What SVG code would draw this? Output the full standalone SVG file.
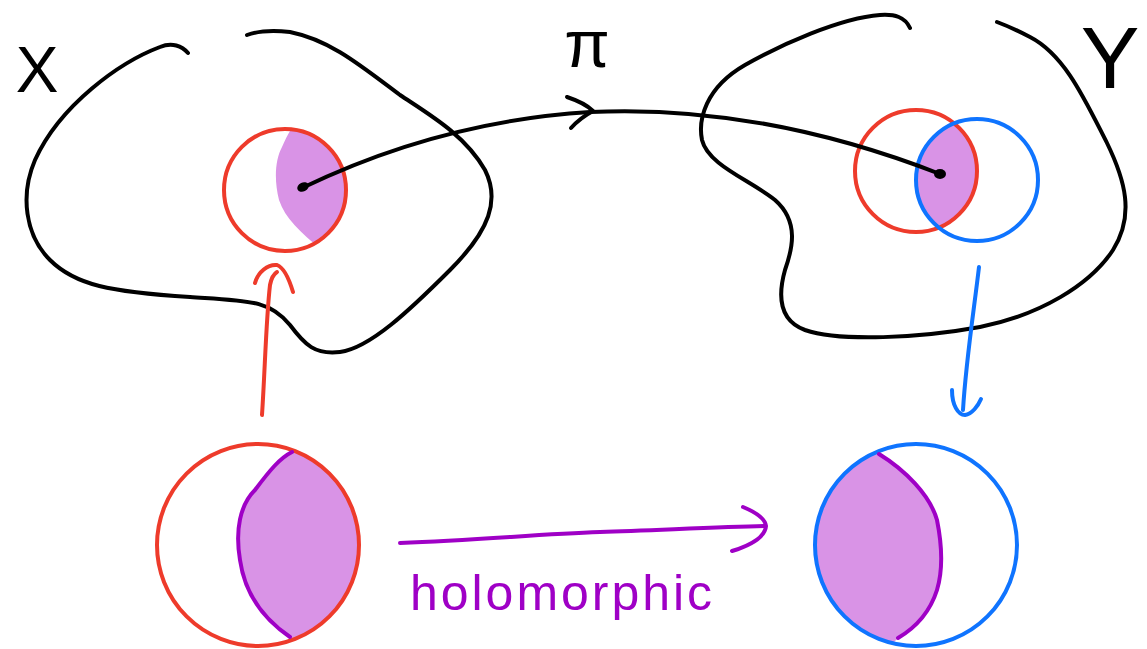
<svg xmlns="http://www.w3.org/2000/svg" width="1147" height="649" viewBox="0 0 1147 649">
  <style>
    .ink{fill:none;stroke:#000;stroke-width:4;stroke-linecap:round;stroke-linejoin:round}
    .red{fill:none;stroke:#ee3b2b;stroke-width:4;stroke-linecap:round;stroke-linejoin:round}
    .blue{fill:none;stroke:#0f74ff;stroke-width:4;stroke-linecap:round;stroke-linejoin:round}
    .pur{fill:none;stroke:#9f00c6;stroke-width:4;stroke-linecap:round;stroke-linejoin:round}
    .shade{fill:#d993e6;stroke:none}
    .lbl{font-family:"Liberation Sans",Arial,sans-serif;fill:#000;text-anchor:middle}
    .hol{font-family:"Liberation Sans",Arial,sans-serif;fill:#9f00c6;font-size:50px}
  </style>
  <defs>
    <clipPath id="clipA"><circle cx="285" cy="190" r="60"/></clipPath>
    <clipPath id="clipL"><circle cx="258" cy="545" r="100"/></clipPath>
    <clipPath id="clipR"><circle cx="916" cy="545" r="100"/></clipPath>
  </defs>
  <rect width="1147" height="649" fill="#fff"/>

  <g id="space-X">
    <path class="ink" d="M188,53 C182,46 172,42 160,47 C120,62 60,105 35,160 C20,195 25,235 50,260 C75,285 110,292 190,297 C250,301 270,300 290,325 C305,345 315,355 340,352 C370,348 410,310 450,270 C490,230 500,200 485,170 C465,135 430,115 400,95 C360,65 330,40 290,32 C270,30 255,32 247,35"/>
    <path class="shade" clip-path="url(#clipA)" d="M294,125 L360,125 L360,250 L322,250 C300,232 285,218 279,200 C274,180 275,160 282,147 C286,138 290,130 294,125 Z"/>
    <circle class="red" cx="285" cy="190" r="61"/>
    <ellipse cx="303" cy="187" rx="6" ry="4.5" transform="rotate(-25 303 187)" fill="#000"/>
    <text class="lbl" x="37" y="92" font-size="64">X</text>
  </g>

  <g id="space-Y">
    <path class="ink" d="M910,28 C905,17 895,14 880,15 C840,18 780,45 745,65 C705,88 698,120 702,140 C708,165 750,180 775,200 C800,222 792,250 785,270 C778,295 778,320 805,330 C840,342 920,338 980,327 C1040,315 1090,285 1113,250 C1135,215 1125,180 1107,143 C1085,100 1065,55 1030,37 C1015,29 1005,25 997,22"/>
    <path class="shade" d="M954.2,123.5 A61,61 0 0 1 938.8,227.5 A61,61 0 0 1 954.2,123.5 Z"/>
    <circle class="red" cx="916" cy="171" r="61"/>
    <circle class="blue" cx="977" cy="180" r="61"/>
    <ellipse cx="940" cy="174" rx="6" ry="5" fill="#000"/>
    <text class="lbl" x="1110" y="88" font-size="88">Y</text>
  </g>

  <g id="disk-left">
    <path class="shade" clip-path="url(#clipL)" d="M292,452 L302,444 L370,440 L370,650 L302,646 L290,637 C265,620 245,595 240,560 C235,530 240,505 255,490 C270,470 280,458 292,452 Z"/>
    <circle class="red" cx="258" cy="545" r="101"/>
    <path class="pur" d="M292,452 C280,458 270,470 255,490 C240,505 235,530 240,560 C245,595 265,620 290,637"/>
  </g>

  <g id="disk-right">
    <path class="shade" clip-path="url(#clipR)" d="M879,454 C905,470 930,495 937,520 C942,545 943,570 937,590 C930,612 915,628 898,638 L890,646 L800,645 L800,440 L870,446 Z"/>
    <circle class="blue" cx="916" cy="545" r="101"/>
    <path class="pur" d="M879,454 C905,470 930,495 937,520 C942,545 943,570 937,590 C930,612 915,628 898,638"/>
  </g>

  <g id="connectors">
    <path id="map-pi" class="ink" d="M302,188 C360,160 460,120 590,112 C720,106 840,135 940,174"/>
    <path class="ink" d="M567,97 Q585,103 593,111 Q580,118 571,128"/>
    <text class="lbl" x="587" y="67" font-size="66">π</text>

    <path id="chart-red" class="red" stroke-width="3" d="M262,415 C265,370 266,320 270,285 Q272,275 277,272"/>
    <path class="red" stroke-width="3" d="M255,283 C258,272 268,264 277,265 C285,268 290,282 293,292"/>

    <path id="chart-blue" class="blue" stroke-width="3" d="M979,267 C974,310 966,360 963,410"/>
    <path class="blue" stroke-width="3" d="M952,390 C952,405 958,415 965,415 C972,414 978,406 981,399"/>

    <path id="holo" class="pur" d="M400,543 C480,540 540,534 600,532 C660,530 720,527 765,526"/>
    <path class="pur" d="M743,507 C755,512 765,518 766,526 C765,538 748,546 732,551"/>
    <text class="hol" x="410" y="610" textLength="302" lengthAdjust="spacing">holomorphic</text>
  </g>
</svg>
